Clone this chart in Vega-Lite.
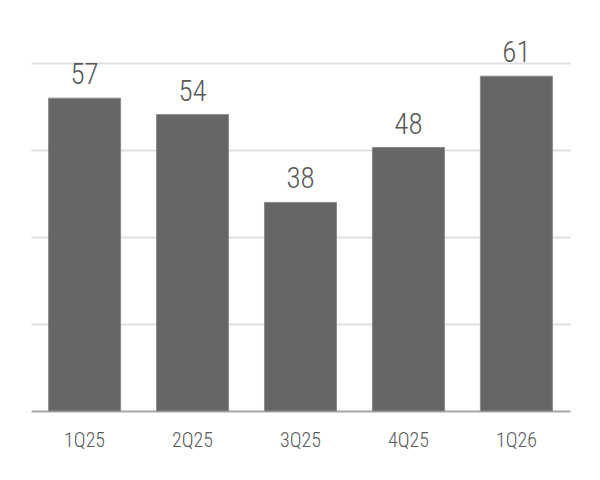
{
  "$schema": "https://vega.github.io/schema/vega-lite/v6.json",
  "width": 539,
  "height": 348,
  "autosize": {"type": "none"},
  "padding": {"left": 31, "top": 63, "right": 30, "bottom": 69},
  "background": "white",
  "config": {
    "view": {"stroke": null},
    "font": "Roboto Condensed"
  },
  "data": {
    "values": [
      {"quarter": "1Q25", "value": 57},
      {"quarter": "2Q25", "value": 54},
      {"quarter": "3Q25", "value": 38},
      {"quarter": "4Q25", "value": 48},
      {"quarter": "1Q26", "value": 61}
    ]
  },
  "encoding": {
    "x": {
      "field": "quarter",
      "type": "nominal",
      "sort": null,
      "scale": {"paddingInner": 0.333, "paddingOuter": 0.163},
      "axis": {
        "title": null,
        "labelAngle": 0,
        "ticks": false,
        "domain": true,
        "domainColor": "#a6a6a6",
        "domainWidth": 2,
        "labelColor": "#595959",
        "labelFont": "Roboto Condensed",
        "labelFontWeight": 300,
        "labelFontSize": 20,
        "labelBaseline": "alphabetic",
        "labelPadding": 35,
        "grid": false
      }
    },
    "y": {
      "field": "value",
      "type": "quantitative",
      "scale": {"domain": [0, 63.4], "nice": false},
      "axis": {
        "title": null,
        "labels": false,
        "ticks": false,
        "domain": false,
        "values": [15.85, 31.7, 47.55, 63.4],
        "grid": true,
        "gridColor": "#e0e0e0",
        "gridWidth": 2
      }
    }
  },
  "layer": [
    {
      "mark": {"type": "bar", "color": "#666666", "stroke": "#8a8a8a", "strokeWidth": 1}
    },
    {
      "mark": {
        "type": "text",
        "baseline": "alphabetic",
        "dy": -14,
        "font": "Roboto Condensed",
        "fontWeight": 300,
        "fontSize": 29,
        "color": "#595959"
      },
      "encoding": {"text": {"field": "value", "type": "quantitative"}}
    }
  ]
}
